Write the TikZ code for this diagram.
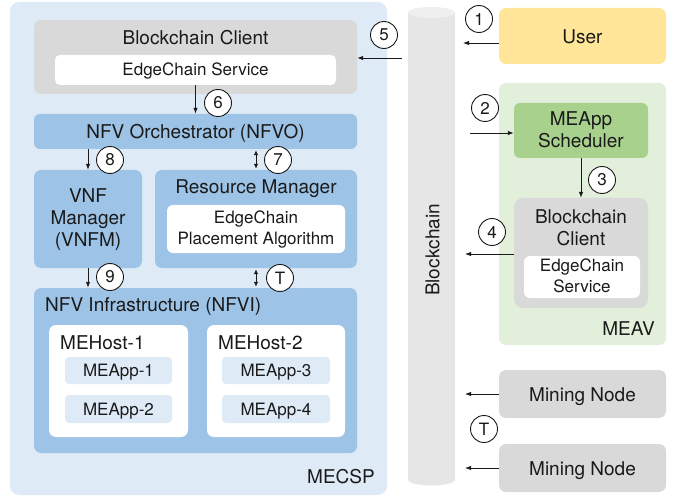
\documentclass[tikz,border=0pt]{standalone}
\usepackage{fontspec}
\setmainfont{TeX Gyre Heros}
\usetikzlibrary{arrows.meta,calc}

\definecolor{spblue}{HTML}{DEEBF7}
\definecolor{midblue}{HTML}{9DC3E6}
\definecolor{boxgray}{HTML}{D9D9D9}
\definecolor{useryel}{HTML}{FFE699}
\definecolor{avgreen}{HTML}{E2EFDA}
\definecolor{schgreen}{HTML}{A9D18E}
\definecolor{chainbody}{HTML}{E6E6E6}
\definecolor{chaintop}{HTML}{EFEFEF}
\definecolor{ink}{HTML}{1A1A1A}

\newcommand\mainsize{\fontsize{19}{22}\selectfont}
\newcommand\subsize{\fontsize{17}{20.5}\selectfont}
\newcommand\numsize{\fontsize{17}{20}\selectfont}

\tikzset{
  panel/.style={rectangle, inner sep=0pt, draw=none, rounded corners=#1},
  panel/.default=6pt,
  % for several lines the base anchor sits on the last line's baseline
  lbl/.style={inner sep=0pt, anchor=base, text=ink, align=center, font=\mainsize},
  sublbl/.style={lbl, font=\subsize},
  numc/.style={circle, draw=ink, line width=0.9pt, fill=white, minimum size=27pt,
    inner sep=0pt, text=ink, font=\numsize},
  arr/.style={draw=ink, line width=0.9pt, -{Latex[length=6pt,width=4.5pt]}},
  darr/.style={draw=ink, line width=0.9pt, {Latex[length=5pt,width=4.5pt]}-{Latex[length=5pt,width=4.5pt]}},
}

\begin{document}
\begin{tikzpicture}[x=1pt,y=-1pt]
\useasboundingbox (0,0) rectangle (678,500);

% ---------- MEC service provider ----------
\node[panel=9pt, fill=spblue, minimum width=377pt, minimum height=493pt] (mecsp) at (198.5,248.5) {};
\node[lbl, anchor=base east] (t-mecsp) at (375,483) {MECSP};

\node[panel=7pt, fill=boxgray, minimum width=323pt, minimum height=74pt] (bcc) at (195.5,57) {};
\node[lbl] (t-bcc) at (195.5,45) {Blockchain Client};
\node[panel=5pt, fill=white, minimum width=281pt, minimum height=30pt] (ecs) at (195.5,70) {};
\node[sublbl] (t-ecs) at (195.5,76) {EdgeChain Service};

\node[panel=6pt, fill=midblue, minimum width=323pt, minimum height=35pt] (nfvo) at (195.5,131.5) {};
\node[lbl] (t-nfvo) at (195.5,138.3) {NFV Orchestrator (NFVO)};

\node[panel=7pt, fill=midblue, minimum width=108pt, minimum height=98pt] (vnfm) at (88,219) {};
\node[lbl] (t-vnfm) at (88,247) {VNF\\Manager\\(VNFM)};

\node[panel=7pt, fill=midblue, minimum width=202pt, minimum height=98pt] (rm) at (256,219) {};
\node[lbl] (t-rm) at (256,193.3) {Resource Manager};
\node[panel=6pt, fill=white, minimum width=178pt, minimum height=48pt] (epa) at (256,229) {};
\node[sublbl] (t-epa) at (256,244.3) {EdgeChain\\Placement Algorithm};

\node[panel=7pt, fill=midblue, minimum width=323pt, minimum height=165pt] (nfvi) at (195.5,370.5) {};
\node[lbl, anchor=base west] (t-nfvi) at (45,311.7) {NFV Infrastructure (NFVI)};

\node[panel=7pt, fill=white, minimum width=139pt, minimum height=112pt] (host1) at (118.5,381) {};
\node[lbl, anchor=base west] (t-host1) at (60,349.3) {MEHost-1};
\node[panel=4pt, fill=spblue, minimum width=107pt, minimum height=27pt] (app1) at (118.5,370.5) {};
\node[sublbl] (t-app1) at (118.5,376) {MEApp-1};
\node[panel=4pt, fill=spblue, minimum width=107pt, minimum height=28pt] (app2) at (118.5,409) {};
\node[sublbl] (t-app2) at (118.5,415) {MEApp-2};

\node[panel=7pt, fill=white, minimum width=138pt, minimum height=112pt] (host2) at (276,381) {};
\node[lbl, anchor=base west] (t-host2) at (218,349.3) {MEHost-2};
\node[panel=4pt, fill=spblue, minimum width=108pt, minimum height=27pt] (app3) at (276,370.5) {};
\node[sublbl] (t-app3) at (276,376) {MEApp-3};
\node[panel=4pt, fill=spblue, minimum width=108pt, minimum height=28pt] (app4) at (276,409) {};
\node[sublbl] (t-app4) at (276,415) {MEApp-4};

% ---------- blockchain cylinder ----------
\fill[chainbody] (408,12.5) rectangle (455,480);
\fill[chainbody] (431.5,480) ellipse [x radius=23.5, y radius=5.5];
\fill[chaintop] (431.5,12.5) ellipse [x radius=23.5, y radius=5.5];
\node[inner sep=0pt, minimum width=47pt, minimum height=478pt] (chain) at (431.5,246) {};
\node[inner sep=0pt, rotate=90, text=ink, font=\mainsize, text height=13.5pt, text depth=0pt] (t-chain) at (432.5,250) {Blockchain};

% ---------- right column ----------
\node[panel=7pt, fill=useryel, minimum width=167pt, minimum height=56pt] (user) at (582.5,36) {};
\node[lbl] (t-user) at (582.5,44) {User};

\node[panel=7pt, fill=avgreen, minimum width=167pt, minimum height=262pt] (meav) at (582.5,214) {};
\node[lbl, anchor=base east] (t-meav) at (655,335) {MEAV};

\node[panel=6pt, fill=schgreen, minimum width=134pt, minimum height=55pt] (sched) at (581,130.5) {};
\node[lbl] (t-sched) at (581,147.7) {MEApp\\Scheduler};

\node[panel=9pt, fill=boxgray, minimum width=134pt, minimum height=110pt] (mbc) at (581,253) {};
\node[lbl] (t-mbc) at (581,245.7) {Blockchain\\Client};
\node[panel=6pt, fill=white, minimum width=116pt, minimum height=42pt] (mecs) at (582,277) {};
\node[sublbl] (t-mecs) at (582,292.3) {EdgeChain\\Service};

\node[panel=7pt, fill=boxgray, minimum width=167pt, minimum height=48pt] (mine1) at (582.5,394) {};
\node[lbl] (t-mine1) at (582.5,401) {Mining Node};
\node[panel=7pt, fill=boxgray, minimum width=167pt, minimum height=48pt] (mine2) at (582.5,468) {};
\node[lbl] (t-mine2) at (582.5,475) {Mining Node};

% ---------- connectors ----------
\coordinate (e1) at (463,43);
\coordinate (s5) at (402,58);
\coordinate (s2) at (470,133);
\coordinate (e4) at (465,254);
\coordinate (em) at (465,0);

\draw[arr] (user.west |- e1) -- (e1);
\draw[arr] (s5) -- (bcc.east |- s5);
\draw[arr] (ecs.south) -- (nfvo.north);
\draw[arr] (vnfm.north |- nfvo.south) -- (vnfm.north);
\draw[darr, shorten <=1pt, shorten >=1pt] (rm.north |- nfvo.south) -- (rm.north);
\draw[arr] (vnfm.south) -- (vnfm.south |- nfvi.north);
\draw[darr, shorten <=1pt, shorten >=1pt] (rm.south) -- (rm.south |- nfvi.north);
\draw[arr] (s2) -- (sched.west |- s2);
\draw[arr] (sched.south) -- (mbc.north);
\draw[arr] (mbc.west |- e4) -- (e4);
\draw[arr] (mine1.west) -- (mine1.west -| em);
\draw[arr] (mine2.west) -- (mine2.west -| em);

% ---------- step markers ----------
\node[numc] (n1) at (479,19) {1};
\node[numc] (n2) at (485,108) {2};
\node[numc] (n3) at (602,180) {3};
\node[numc] (n4) at (492,232) {4};
\node[numc] (n5) at (384,35) {5};
\node[numc] (n6) at (218,103) {6};
\node[numc] (n7) at (278,160) {7};
\node[numc] (n8) at (110,160) {8};
\node[numc] (n9) at (110,277) {9};
\node[numc] (nt1) at (280,278) {T};
\node[numc] (nt2) at (484,429) {T};
\end{tikzpicture}
\end{document}
